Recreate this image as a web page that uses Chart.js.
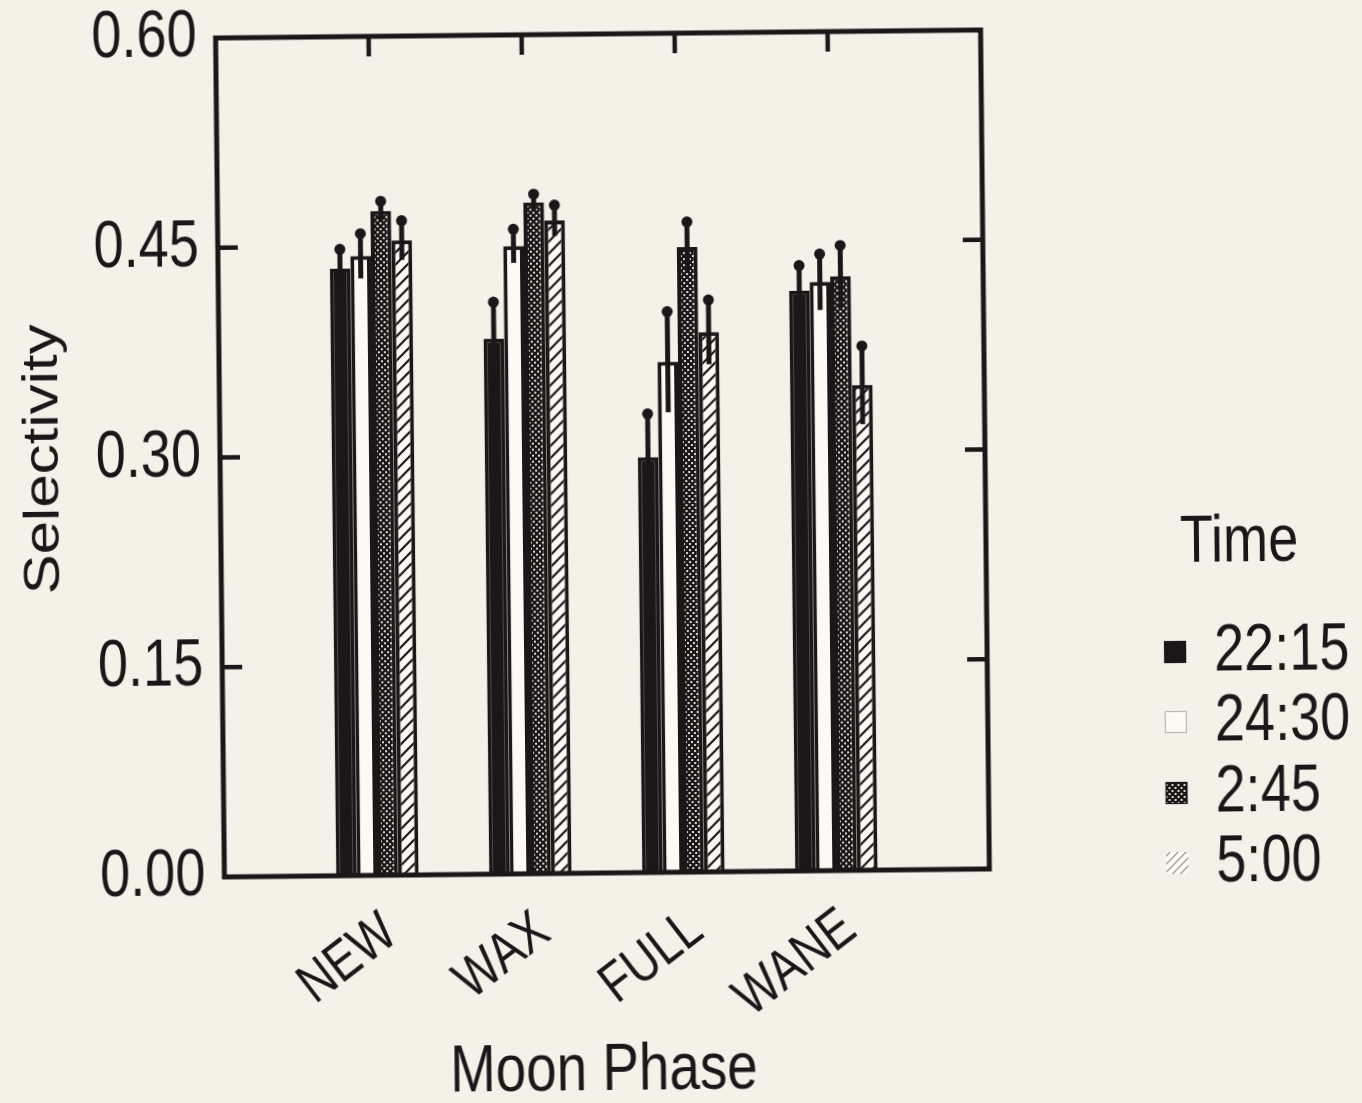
<!DOCTYPE html>
<html>
<head>
<meta charset="utf-8">
<title>Selectivity by Moon Phase</title>
<script src="https://cdn.jsdelivr.net/npm/chart.js@4/dist/chart.umd.min.js"></script>
<style>
  html, body { margin: 0; padding: 0; background: #f3f2e9; overflow: hidden; }
  #wrap { width: 1362px; height: 1103px; }
  canvas { display: block; transform: rotate(-0.6deg); transform-origin: 600px 455px; }
</style>
</head>
<body>
<div id="wrap"><canvas id="chart" width="1362" height="1103"></canvas></div>
<script>
// ---- data ----
const phases = ['NEW', 'WAX', 'FULL', 'WANE'];
const times = ['22:15', '24:30', '2:45', '5:00'];
const legendTitle = 'Time';
const xTitle = 'Moon Phase';
const yTitle = 'Selectivity';

// mean selectivity per moon phase
const sel2215 = [0.434, 0.383, 0.297, 0.415];
const sel2430 = [0.443, 0.449, 0.365, 0.421];
const sel0245 = [0.475, 0.480, 0.447, 0.425];
const sel0500 = [0.454, 0.467, 0.386, 0.347];

// standard errors
const err2215 = [0.014, 0.026, 0.031, 0.018];
const err2430 = [0.016, 0.012, 0.036, 0.020];
const err0245 = [0.007, 0.006, 0.018, 0.022];
const err0500 = [0.014, 0.011, 0.023, 0.028];

const yTicks = [0.00, 0.15, 0.30, 0.45, 0.60];

// ---- styling ----
const INK = '#1b1719';
const PAPER = '#fbfaf4';
const FONT = "'Liberation Sans', Arial, sans-serif";
const NARROW = 0.82;   // horizontal squeeze of the lettering

function dotPattern() {
  const c = document.createElement('canvas');
  c.width = 6; c.height = 6;
  const g = c.getContext('2d');
  g.fillStyle = INK; g.fillRect(0, 0, 6, 6);
  g.fillStyle = '#d8d6cc';
  g.fillRect(1, 1, 2, 2);
  g.fillRect(4, 4, 2, 2);
  return g.createPattern(c, 'repeat');
}
function hatchPattern(color, width, s) {
  const c = document.createElement('canvas');
  c.width = s; c.height = s;
  const g = c.getContext('2d');
  g.fillStyle = PAPER; g.fillRect(0, 0, s, s);
  g.strokeStyle = color; g.lineWidth = width;
  g.beginPath();
  g.moveTo(0, s); g.lineTo(s, 0);
  g.moveTo(-2, 2); g.lineTo(2, -2);
  g.moveTo(s - 2, s + 2); g.lineTo(s + 2, s - 2);
  g.stroke();
  return g.createPattern(c, 'repeat');
}

const fills = [INK, PAPER, dotPattern(), hatchPattern(INK, 2.2, 12)];
const legendFills = [INK, PAPER, dotPattern(), hatchPattern('#8a877f', 1.2, 8)];
const legendBorders = [INK, '#b9b7ae', INK, null];

// category slots: an empty slot either side of the four phases
const slotLabels = [''].concat(phases, ['']);
const pad = arr => [null].concat(arr, [null]);

const seriesValues = [sel2215, sel2430, sel0245, sel0500];
const seriesErrors = [err2215, err2430, err0245, err0500];

const datasets = times.map((t, i) => ({
  label: t,
  data: pad(seriesValues[i]),
  errors: pad(seriesErrors[i]),
  backgroundColor: fills[i],
  borderColor: INK,
  borderWidth: 4,
  borderSkipped: 'start',
  categoryPercentage: 0.54,
  barPercentage: 1.0
}));

// text in a narrow cut: rotate first, then squeeze along the text's own width
function drawText(ctx, text, x, y, o) {
  const opt = Object.assign({ size: 66, sx: NARROW, align: 'left', baseline: 'middle', angle: 0, squeezeAfter: false }, o || {});
  ctx.save();
  ctx.translate(x, y);
  if (opt.squeezeAfter) {
    ctx.rotate(opt.angle);
    ctx.scale(opt.sx, 1);
  } else {
    ctx.scale(opt.sx, 1);
    ctx.rotate(opt.angle);
  }
  ctx.font = opt.size + 'px ' + FONT;
  ctx.fillStyle = INK;
  ctx.textAlign = opt.align;
  ctx.textBaseline = opt.baseline;
  ctx.fillText(text, 0, 0);
  ctx.restore();
}

// error bars, frame with inward ticks, axis lettering and the legend
const decorations = {
  id: 'decorations',
  afterDatasetsDraw(chart) {
    const { ctx, chartArea: a, scales: { x, y } } = chart;
    ctx.save();
    ctx.strokeStyle = INK;
    ctx.fillStyle = INK;
    chart.data.datasets.forEach((ds, i) => {
      const meta = chart.getDatasetMeta(i);
      meta.data.forEach((bar, j) => {
        const v = ds.data[j];
        if (v == null) return;
        const e = ds.errors[j];
        const hi = y.getPixelForValue(v + e);
        const lo = y.getPixelForValue(v - e);
        ctx.lineWidth = 5;
        ctx.beginPath();
        ctx.moveTo(bar.x, lo);
        ctx.lineTo(bar.x, hi);
        ctx.stroke();
        ctx.beginPath();
        ctx.arc(bar.x, hi, 5.5, 0, Math.PI * 2);
        ctx.fill();
      });
    });
    // frame
    ctx.lineWidth = 5;
    ctx.strokeRect(a.left, a.top, a.right - a.left, a.bottom - a.top);
    // inward ticks
    const len = 20;
    ctx.lineWidth = 4.5;
    ctx.beginPath();
    y.ticks.forEach(t => {
      const py = y.getPixelForValue(t.value);
      if (py <= a.top + 1 || py >= a.bottom - 1) return;
      ctx.moveTo(a.left, py); ctx.lineTo(a.left + len, py);
      ctx.moveTo(a.right, py); ctx.lineTo(a.right - len, py);
    });
    slotLabels.forEach((lab, idx) => {
      if (!lab) return;
      const px = x.getPixelForValue(idx);
      ctx.moveTo(px, a.top); ctx.lineTo(px, a.top + len);
    });
    ctx.stroke();
    ctx.restore();
  },
  afterDraw(chart) {
    const { ctx, chartArea: a, scales: { x, y } } = chart;
    // y tick labels
    y.ticks.forEach(t => {
      drawText(ctx, Number(t.value).toFixed(2), a.left - 19, y.getPixelForValue(t.value), { align: 'right' });
    });
    // rotated category labels
    slotLabels.forEach((lab, idx) => {
      if (!lab) return;
      const px = x.getPixelForValue(idx);
      drawText(ctx, lab, px + 22, a.bottom + 64, {
        size: 56, align: 'right', baseline: 'alphabetic',
        angle: -37 * Math.PI / 180, squeezeAfter: true
      });
    });
    // axis titles
    drawText(ctx, xTitle, (a.left + a.right) / 2 - 5, 1072, { align: 'center', sx: 0.83 });
    drawText(ctx, yTitle, 44, (a.top + a.bottom) / 2, { size: 60, align: 'center', angle: -Math.PI / 2 });
    // legend
    drawText(ctx, legendTitle, 1179, 550, {});
    const rowY = [659, 729, 800, 870];
    chart.data.datasets.forEach((ds, i) => {
      const cy = rowY[i];
      const sz = 22, sx = 1162, sy = cy - sz / 2 - 1;
      ctx.save();
      ctx.fillStyle = legendFills[i];
      ctx.fillRect(sx, sy, sz, sz);
      if (legendBorders[i]) {
        ctx.strokeStyle = legendBorders[i];
        ctx.lineWidth = 1.2;
        ctx.strokeRect(sx + 0.5, sy + 0.5, sz - 1, sz - 1);
      }
      ctx.restore();
      drawText(ctx, ds.label, 1212, cy, {});
    });
  }
};

new Chart(document.getElementById('chart'), {
  type: 'bar',
  data: { labels: slotLabels, datasets },
  options: {
    responsive: false,
    animation: false,
    devicePixelRatio: 1,
    layout: { padding: { left: 0, right: 377, top: 34, bottom: 0 } },
    plugins: { legend: { display: false }, tooltip: { enabled: false } },
    scales: {
      x: {
        type: 'category',
        offset: false,
        grid: { display: false, drawTicks: false },
        border: { display: false },
        ticks: { display: false, autoSkip: false },
        afterFit(s) { s.height = 230; }
      },
      y: {
        min: 0,
        max: 0.6,
        grid: { display: false, drawTicks: false },
        border: { display: false },
        afterBuildTicks(s) { s.ticks = yTicks.map(v => ({ value: v })); },
        ticks: { display: false },
        afterFit(s) { s.width = 220; }
      }
    }
  },
  plugins: [decorations]
});
</script>
</body>
</html>
